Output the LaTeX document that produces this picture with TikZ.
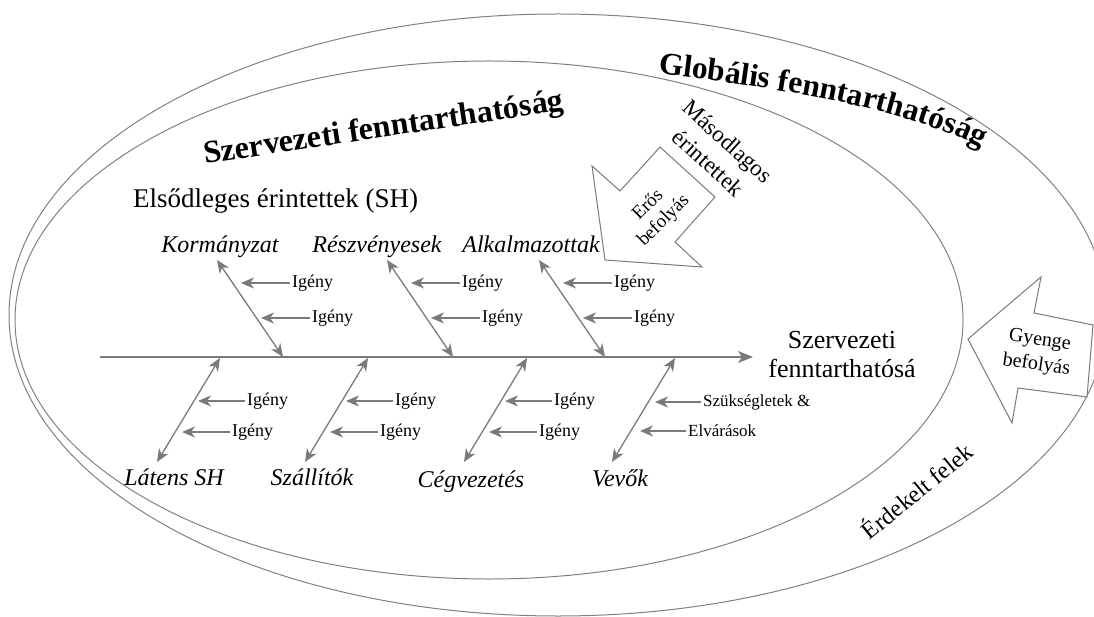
\documentclass[tikz,border=0pt]{standalone}
\usepackage{fontspec}
\setmainfont{Liberation Serif}
\usetikzlibrary{arrows.meta,decorations.text}
\definecolor{lgray}{HTML}{7A7A7A}
\definecolor{egray}{HTML}{808080}
\tikzset{
  ell/.style={draw=egray, line width=1pt},
  bone/.style={draw=lgray, line width=1.3pt,
    {Stealth[length=13pt,width=11pt,inset=4pt]}-{Stealth[length=13pt,width=11pt,inset=4pt]}},
  need/.style={draw=lgray, line width=1.3pt, -{Stealth[length=13pt,width=11pt,inset=4pt]}},
  spine/.style={draw=lgray, line width=1.5pt, -{Stealth[length=15pt,width=12pt,inset=4pt]}},
  bonelab/.style={inner sep=0pt, font=\itshape\fontsize{24}{24}\selectfont},
  needlab/.style={inner sep=2pt, font=\fontsize{18}{18}\selectfont},
  smalllab/.style={inner sep=2pt, font=\fontsize{17}{17}\selectfont},
  bigarrow/.style={draw=lgray, line width=1pt, fill=white, line join=miter},
  arrtext/.style={align=center, inner sep=0pt}
}
\begin{document}
\begin{tikzpicture}[x=1pt,y=-1pt]
\useasboundingbox (0,0) rectangle (1094,617);
% ellipses
\draw[ell] (558,315) ellipse [x radius=549pt, y radius=301pt];
\draw[ell] (489,320) ellipse [x radius=474pt, y radius=259pt];
% titles
\node[anchor=base, rotate=8.5, inner sep=0pt, font=\bfseries\fontsize{32}{32}\selectfont] (szt) at (385,137) {Szervezeti fenntarthatóság};
\path[decorate, decoration={text along path, text align=left,
  text={|\bfseries\fontsize{31.5}{31.5}\selectfont|Globális fenntarthatóság}}]
  (658,74) .. controls (760,86) and (900,104) .. (990,152);
\node[anchor=base west, inner sep=0pt, font=\fontsize{27}{27}\selectfont] (els) at (133,208) {Elsődleges érintettek (SH)};
% spine
\coordinate (sp0) at (100,357);
\coordinate (sp1) at (753,357);
\draw[spine] (sp0) -- (sp1);
\node[arrtext, font=\fontsize{26}{29}\selectfont] (goal) at (842,355) {Szervezeti\\fenntarthatósá};
% top bones
\foreach \x/\lx/\n/\t in {217/220/k/Kormányzat,387/377/r/Részvényesek,539/531/a/Alkalmazottak}{
  \node[bonelab, anchor=base] (\n) at (\lx,253) {\t};
  \coordinate (\n t) at (\x,260);
  \coordinate (\n b) at (\x+66,357);
  \draw[bone] (\n t) -- (\n b);
  \node[needlab, anchor=west] (\n 1) at (\x+73,283) {Igény};
  \coordinate (\n 1t) at (\x+24,283);
  \draw[need] (\n 1) -- (\n 1t);
  \node[needlab, anchor=west] (\n 2) at (\x+93,318) {Igény};
  \coordinate (\n 2t) at (\x+44,318);
  \draw[need] (\n 2) -- (\n 2t);
}
% bottom bones
\foreach \x/\lx/\by/\n/\t in {220/174/485/l/Látens SH,368/312/485/s/Szállítók,527/471/487/c/Cégvezetés}{
  \node[bonelab, anchor=base] (\n) at (\lx,\by) {\t};
  \coordinate (\n t) at (\x,358);
  \coordinate (\n b) at (\x-63,462);
  \draw[bone] (\n b) -- (\n t);
  \node[needlab, anchor=west] (\n 1) at (\x+25,401) {Igény};
  \coordinate (\n 1t) at (\x-22,401);
  \draw[need] (\n 1) -- (\n 1t);
  \node[needlab, anchor=west] (\n 2) at (\x+10,432) {Igény};
  \coordinate (\n 2t) at (\x-38,432);
  \draw[need] (\n 2) -- (\n 2t);
}
% Vevők
\node[bonelab, anchor=base] (v) at (620,486) {Vevők};
\coordinate (vt) at (675,358);
\coordinate (vb) at (612,462);
\draw[bone] (vb) -- (vt);
\node[smalllab, anchor=west] (v1) at (701,402) {Szükségletek \&};
\coordinate (v1t) at (655,402);
\draw[need] (v1) -- (v1t);
\node[smalllab, anchor=west] (v2) at (686,431) {Elvárások};
\coordinate (v2t) at (640,431);
\draw[need] (v2) -- (v2t);
% strong influence arrow
\draw[bigarrow] (605,260) -- (592,166) -- (620,191) -- (660,147) -- (715,197) -- (675,242) -- (702,267) -- cycle;
\node[arrtext, rotate=45, font=\fontsize{19}{22}\selectfont] (eros) at (656,213) {Erős\\befolyás};
\node[arrtext, rotate=-42, font=\fontsize{23}{29}\selectfont] (masod) at (718,152) {Másodlagos\\érintettek};
% weak influence arrow
\draw[bigarrow] (968,339) -- (1041,277) -- (1034,313) -- (1093,325) -- (1087,397) -- (1018,388) -- (1012,423) -- cycle;
\node[arrtext, rotate=-8, font=\fontsize{20}{25}\selectfont] (gy) at (1038,353) {Gyenge\\befolyás};
\node[inner sep=0pt, rotate=39, font=\fontsize{24}{24}\selectfont] (erd) at (916,490) {Érdekelt felek};
\end{tikzpicture}
\end{document}
